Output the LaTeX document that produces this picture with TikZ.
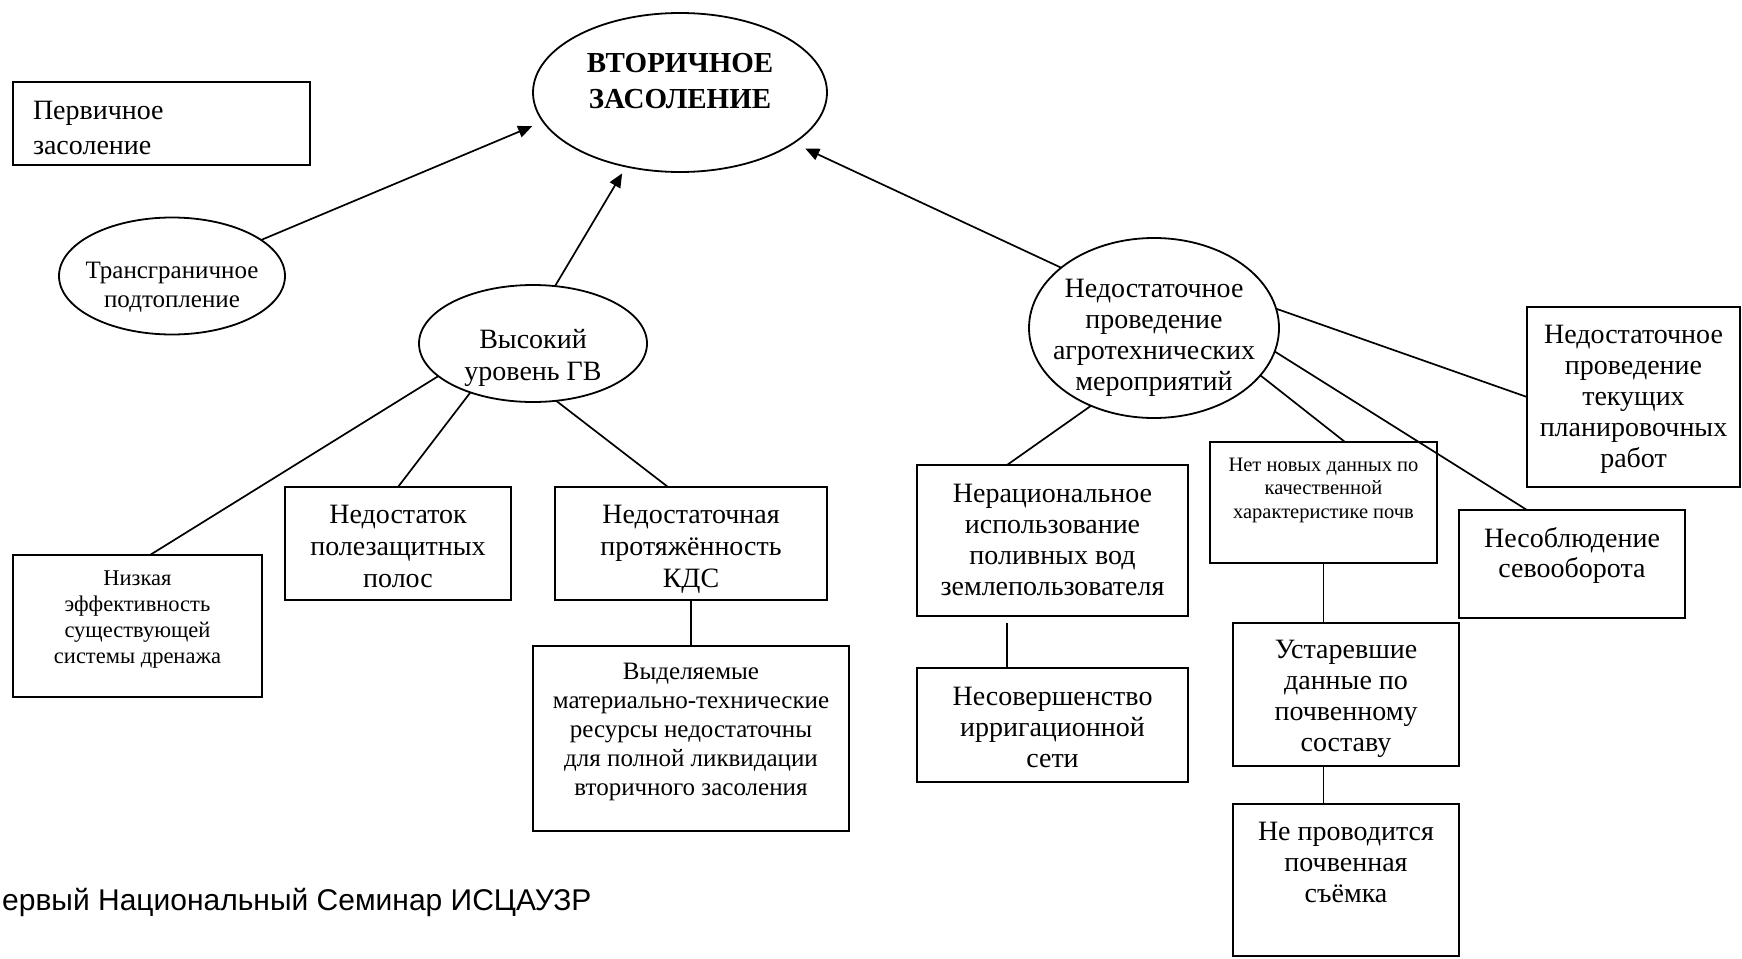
\documentclass[tikz,border=0pt]{standalone}
\usepackage{fontspec}
\setmainfont{Liberation Serif}
\newfontfamily\footfont{Liberation Sans}
\usetikzlibrary{shapes.geometric,arrows.meta}

% text block whose first baseline sits #1 above the node centre; takes no room
\newcommand{\tx}[2]{\makebox[0pt]{\raisebox{#1}[0pt][0pt]{\begin{tabular}[t]{@{}c@{}}#2\end{tabular}}}}

\tikzset{
  shp/.style={draw, line width=1.8pt, inner sep=0pt, outer sep=0pt},
  rbox/.style={shp, rectangle},
  oval/.style={shp, ellipse},
  sz/.style 2 args={minimum width=#1, minimum height=#2},
  ln/.style={line width=1.7pt},
  arr/.style={line width=1.7pt, -{Triangle[length=14pt,width=12pt]}},
  fA/.style={font=\fontsize{28}{32}\selectfont},
  fB/.style={font=\fontsize{28}{31}\selectfont},
}

\begin{document}
\begin{tikzpicture}[x=1pt,y=-1pt]
\useasboundingbox (0,0) rectangle (1742,958);

% top level
\node[oval, sz={294}{159}, font=\bfseries\fontsize{29}{36}\selectfont] (main) at (680,92.5)
  {\tx{20.5pt}{ВТОРИЧНОЕ\\ЗАСОЛЕНИЕ}};
\node[rbox, sz={297}{83}, font=\fontsize{28}{35}\selectfont] (prim) at (161.5,123.5)
  {\makebox[0pt]{\raisebox{4.5pt}[0pt][0pt]{\parbox[t]{257pt}{\raggedright Первичное\\засоление}}}};

% causes
\node[oval, sz={226}{117}, font=\fontsize{25}{29}\selectfont] (trans) at (172,276)
  {\tx{-2pt}{Трансграничное\\подтопление}};
\node[oval, sz={228}{117}, fA] (vys) at (533,343.5)
  {\tx{-4.5pt}{Высокий\\уровень ГВ}};
\node[oval, sz={250}{180}, fB] (agro) at (1154,328)
  {\tx{31pt}{Недостаточное\\проведение\\агротехнических\\мероприятий}};

% left branch
\node[rbox, sz={249}{142}, font=\fontsize{22.5}{26}\selectfont] (low) at (137.5,626)
  {\tx{41pt}{Низкая\\эффективность\\существующей\\системы дренажа}};
\node[rbox, sz={226}{113}, fA] (belts) at (398,543.5)
  {\tx{20.5pt}{Недостаток\\полезащитных\\полос}};
\node[rbox, sz={272}{113}, fA] (kds) at (691,543.5)
  {\tx{20.5pt}{Недостаточная\\протяжённость\\КДС}};
\node[rbox, sz={316}{185}, font=\fontsize{25}{29}\selectfont] (res) at (691,738.5)
  {\tx{59.5pt}{Выделяемые\\материально-технические\\ресурсы недостаточны\\для полной ликвидации\\вторичного засоления}};

% right branch
\node[rbox, sz={213}{180}, fB] (plan) at (1633.5,397)
  {\tx{54pt}{Недостаточное\\проведение\\текущих\\планировочных\\работ}};
\node[rbox, sz={226}{108}, font=\fontsize{28}{30}\selectfont] (rot) at (1572,564)
  {\tx{17pt}{Несоблюдение\\севооборота}};
\node[rbox, sz={271}{151}, fB] (norat) at (1052.5,540.5)
  {\tx{38.5pt}{Нерациональное\\использование\\поливных вод\\землепользователя}};
\node[rbox, sz={271}{114}, fB] (imperf) at (1052.5,725)
  {\tx{20pt}{Несовершенство\\ирригационной\\сети}};
\node[rbox, sz={227}{121}, font=\fontsize{20.5}{23.5}\selectfont] (nodata) at (1323.5,502.5)
  {\tx{31.5pt}{Нет новых данных по\\качественной\\характеристике почв}};
\node[rbox, sz={226}{143}, fB] (old) at (1346,694.5)
  {\tx{36.5pt}{Устаревшие\\данные по\\почвенному\\составу}};
\node[rbox, sz={226}{152}, fB] (survey) at (1346,880)
  {\tx{40pt}{Не проводится\\почвенная\\съёмка}};

% footer
\node[anchor=base west, inner sep=0pt, font=\footfont\fontsize{30}{36}\selectfont] (foot) at (2,910)
  {ервый Национальный Семинар ИСЦАУЗР};

% arrows into the main node
\draw[arr, shorten >=12pt] (trans.22) -- (main.192);
\draw[arr, shorten >=8pt] (vys.69) -- (main.234);
\draw[arr, shorten >=13pt] (agro.147) -- (main.336);

% links of the left branch
\draw[ln] (vys.199) -- ([xshift=12.5pt]low.north);
\draw[ln] (vys.218) -- (belts.north);
\draw[ln] (vys.292) -- ([xshift=-23pt]kds.north);
\draw[ln] (kds.south) -- (res.north);

% links of the right branch
\draw[ln] (agro.9) -- (plan.west);
\draw[ln] (agro.349) -- ([xshift=-45pt]rot.north);
\draw[ln] (agro.336) -- ([xshift=21.5pt]nodata.north);
\draw[ln] (agro.231) -- ([xshift=-45.5pt]norat.north);
\draw[ln, shorten <=7pt] ([xshift=-45.5pt]norat.south) -- ([xshift=-45.5pt]imperf.north);
\draw[ln] (nodata.south) -- (nodata.south |- old.north);
\draw[ln] (nodata.south |- old.south) -- (nodata.south |- survey.north);
\end{tikzpicture}
\end{document}
